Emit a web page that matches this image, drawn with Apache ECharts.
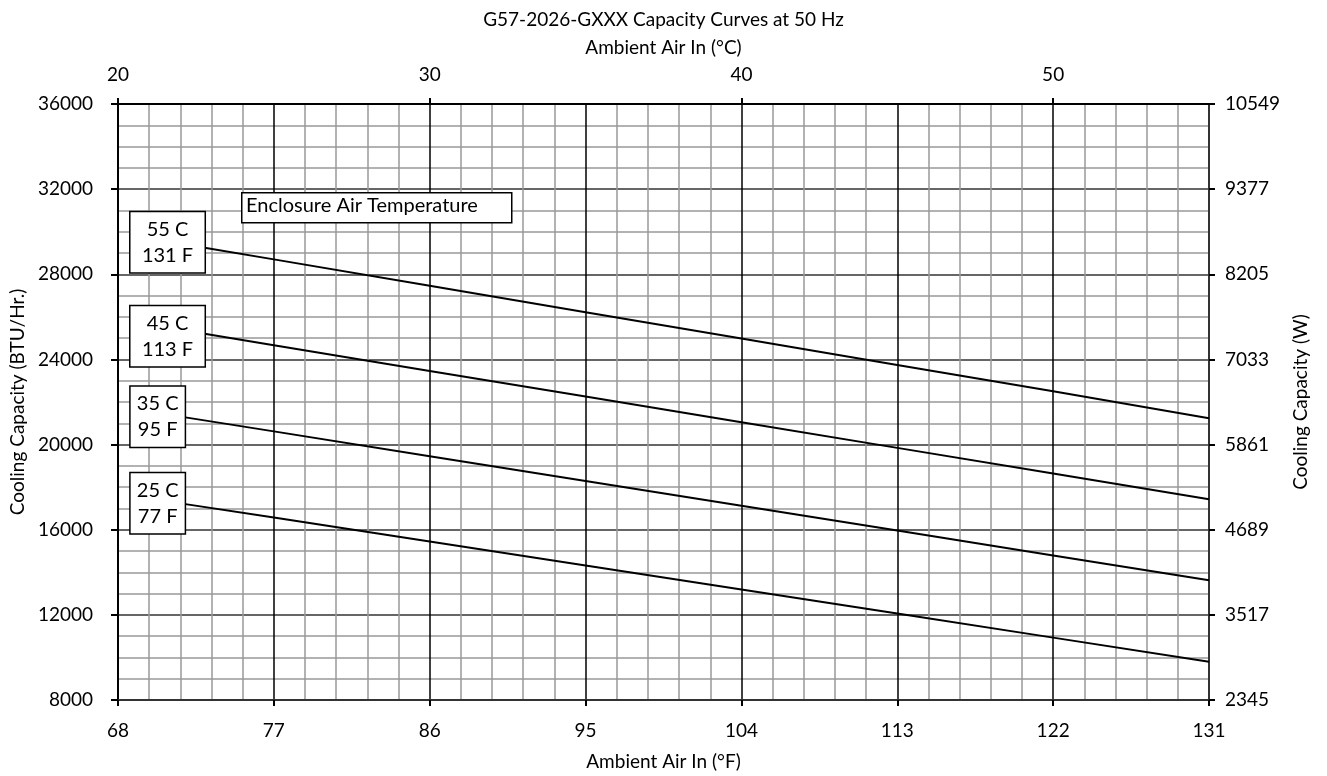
<!DOCTYPE html>
<html>
<head>
<meta charset="utf-8">
<script src="https://cdn.jsdelivr.net/npm/echarts@6/dist/echarts.min.js"></script>
<style>
html,body{margin:0;padding:0;background:#fff;}
#tu_1{width:1327px;height:776px;}
</style>
</head>
<body>
<div id="tu_1"></div>
<script>
// 横轴 °F (55C/45C 曲线从 73 F 起, 35C/25C 从 71.8 F 起)
var tempsHot = [73, 77, 86, 95, 104, 113, 122, 131];
var tempsCool = [71.8, 77, 86, 95, 104, 113, 122, 131];
// 各箱内温度下的制冷量 (BTU/Hr.)
var cap55 = [29246, 28700, 27460, 26220, 24980, 23740, 22500, 21240];
var cap45 = [25204, 24665, 23460, 22255, 21050, 19845, 18640, 17435];
var cap35 = [21289, 20620, 19455, 18290, 17124, 15959, 14793, 13628];
var cap25 = [17214, 16570, 15442, 14315, 13187, 12059, 10930, 9802];
// 右轴 W 刻度
var wattLabels = ['2345', '3517', '4689', '5861', '7033', '8205', '9377', '10549'];
// 曲线标签
var curveNames = ['55 C\n131 F', '45 C\n113 F', '35 C\n95 F', '25 C\n77 F'];
var labelAnchors = [[70.86, 29505], [70.86, 25087], [70.29, 21303], [70.29, 17238]];
var labelWidths = [54, 54, 34, 34];

var FONT = 'Lato';
var myChart_1;

function pair(xs, arr){
	var out = [];
	for(var i=0; i<xs.length; i++){
		out.push([xs[i], arr[i]]);
	}
	return out;
}

function mkSeries(xs, arr, idx){
	return {
		type: 'line',
		name: curveNames[idx],
		data: pair(xs, arr),
		symbol: 'none',
		silent: true,
		lineStyle: {color: '#000', width: 2},
		z: 3,
		markPoint: {
			symbol: 'rect',
			symbolSize: 1,
			itemStyle: {color: 'rgba(0,0,0,0)'},
			z: 10,
			data: [{
				coord: labelAnchors[idx],
				label: {
					show: true,
					position: 'inside',
					formatter: curveNames[idx],
					color: '#000',
					fontFamily: FONT,
					fontSize: 20,
					lineHeight: 26,
					width: labelWidths[idx],
					align: 'center',
					backgroundColor: '#fff',
					borderColor: '#000',
					borderWidth: 1.5,
					padding: [4, 10, 4, 10]
				}
			}]
		}
	};
}

myChart_1 = echarts.init(document.getElementById('tu_1'));
var option = {
	animation: false,
	backgroundColor: '#fff',
	textStyle: {fontFamily: FONT},
	title: {
		text: 'G57-2026-GXXX Capacity Curves at 50 Hz',
		left: 'center',
		top: 5,
		textStyle: {fontFamily: FONT, fontWeight: 'normal', fontSize: 19, color: '#000'}
	},
	grid: {left: 117, right: 118, top: 104, bottom: 76},
	xAxis: [{
		type: 'value',
		min: 68, max: 131, interval: 9,
		position: 'bottom',
		name: 'Ambient Air In (°F)',
		nameLocation: 'middle',
		nameGap: 52,
		nameTextStyle: {fontFamily: FONT, fontSize: 19, color: '#000'},
		axisLine: {lineStyle: {color: '#333', width: 2}},
		axisTick: {show: true, length: 6, lineStyle: {color: '#000', width: 2}},
		axisLabel: {color: '#000', fontSize: 19, fontFamily: FONT, margin: 21},
		splitLine: {show: true, lineStyle: {color: '#000', width: 1.5}},
		minorTick: {show: false, splitNumber: 5},
		minorSplitLine: {show: true, lineStyle: {color: '#999', width: 1.5}}
	}, {
		type: 'value',
		min: 20, max: 55, interval: 10,
		position: 'top',
		name: 'Ambient Air In (°C)',
		nameLocation: 'middle',
		nameGap: 47,
		nameTextStyle: {fontFamily: FONT, fontSize: 19, color: '#000'},
		axisLine: {lineStyle: {color: '#000', width: 2}},
		axisTick: {show: true, length: 6, lineStyle: {color: '#000', width: 2}},
		axisLabel: {color: '#000', fontSize: 19, fontFamily: FONT, margin: 20, showMaxLabel: false},
		splitLine: {show: false}
	}],
	yAxis: [{
		type: 'value',
		min: 8000, max: 36000, interval: 4000,
		position: 'left',
		name: 'Cooling Capacity (BTU/Hr.)',
		nameLocation: 'middle',
		nameGap: 89,
		nameTextStyle: {fontFamily: FONT, fontSize: 19, color: '#000'},
		axisLine: {show: true, lineStyle: {color: '#000', width: 2}},
		axisTick: {show: true, length: 7, lineStyle: {color: '#000', width: 2}},
		axisLabel: {
			color: '#000', fontSize: 19, fontFamily: FONT, margin: 25,
			formatter: function(v){ return String(v); }
		},
		splitLine: {show: true, lineStyle: {color: '#333', width: 1.5}},
		minorTick: {show: false, splitNumber: 4},
		minorSplitLine: {show: true, lineStyle: {color: '#999', width: 1.5}}
	}, {
		type: 'value',
		min: 8000, max: 36000, interval: 4000,
		position: 'right',
		name: 'Cooling Capacity (W)',
		nameLocation: 'middle',
		nameGap: 82,
		nameTextStyle: {fontFamily: FONT, fontSize: 19, color: '#000'},
		axisLine: {show: true, lineStyle: {color: '#333', width: 2}},
		axisTick: {show: true, length: 6, lineStyle: {color: '#000', width: 2}},
		axisLabel: {
			color: '#000', fontSize: 19, fontFamily: FONT, margin: 16,
			formatter: function(v){ return wattLabels[Math.round((v - 8000) / 4000)]; }
		},
		splitLine: {show: false}
	}],
	graphic: [{
		type: 'rect',
		left: 241, top: 192,
		z: 100,
		shape: {width: 270, height: 30},
		style: {fill: '#fff', stroke: '#000', lineWidth: 1.5}
	}, {
		type: 'text',
		left: 246, top: 196,
		z: 101,
		style: {text: 'Enclosure Air Temperature', fill: '#000', font: '20px ' + FONT}
	}],
	series: [mkSeries(tempsHot, cap55, 0), mkSeries(tempsHot, cap45, 1), mkSeries(tempsCool, cap35, 2), mkSeries(tempsCool, cap25, 3)]
};
myChart_1.setOption(option);
</script>
</body>
</html>
